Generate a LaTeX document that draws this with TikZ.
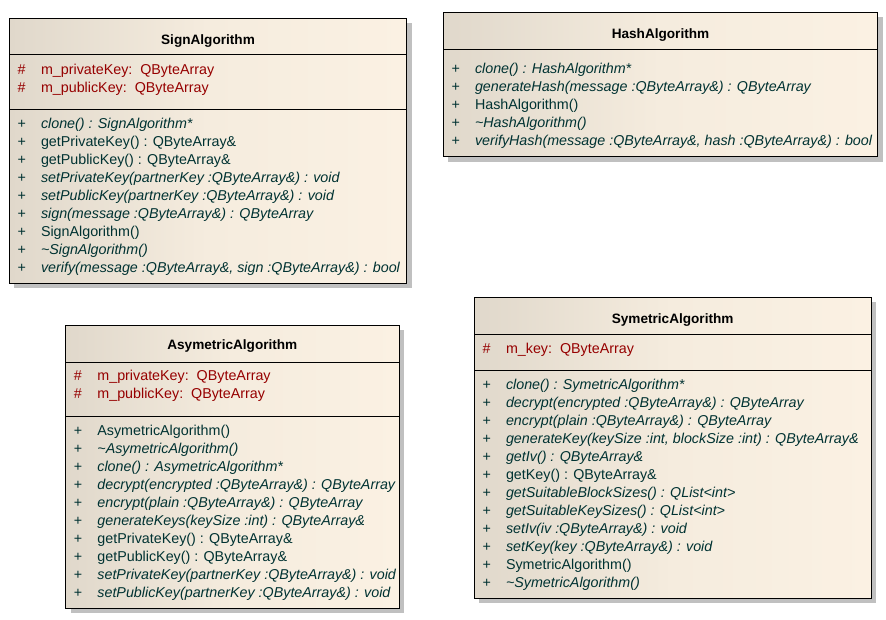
\documentclass[tikz,border=0pt]{standalone}
\usepackage{fontspec}
\setmainfont{Liberation Sans}
\usepackage{tikz}
\definecolor{attrred}{RGB}{150,0,0}
\definecolor{opteal}{RGB}{0,50,50}
\definecolor{bodyleft}{RGB}{224,216,203}
\definecolor{bodymid}{RGB}{245,236,222}
\definecolor{bodyright}{RGB}{251,241,227}
\definecolor{shadowgray}{RGB}{192,192,192}
\newcommand\umlfont{\fontsize{14.3}{17}\selectfont}
\tikzset{
    boxshadow/.style={fill=shadowgray},
    boxbody/.style={draw=black, line width=1pt, left color=bodyleft, right color=bodyright, middle color=bodymid},
    boxrule/.style={draw=black, line width=1pt},
    classtitle/.style={anchor=base, inner sep=0pt, font=\bfseries\fontsize{13.6}{16}\selectfont},
    attr/.style={anchor=base west, inner sep=0pt, text=attrred, font=\umlfont},
    op/.style={anchor=base west, inner sep=0pt, text=opteal, font=\umlfont},
}
% #1 name, #2 title, #3 left, #4 top, #5 right, #6 bottom, #7 title baseline, #8 rules
\newcommand\ClassBox[8]{%
    \fill[boxshadow] ({#3+5},{-#4-5}) rectangle ({#5+5},{-#6-5});
    \draw[boxbody] (#3,-#4) rectangle (#5,-#6);
    \foreach \r in {#8} \draw[boxrule] (#3,-\r) -- (#5,-\r);
    \node[classtitle] (#1) at ({(#3+#5)/2},-#7) {#2};
}
% #1 style, #2 prefix, #3 marker, #4 box left, #5 first baseline, #6 entries
\newcommand\Members[6]{%
    \foreach \entry [count=\i] in {#6} {
        \node[#1] (#2m\i) at ({#4+8},{-(#5)-18*(\i-1)}) {#3};
        \node[#1] (#2\i) at ({#4+31.5},{-(#5)-18*(\i-1)}) {\entry};
    }
}

\begin{document}
\begin{tikzpicture}[x=1pt,y=1pt]
    \useasboundingbox (0,0) rectangle (886,-620);
    % SignAlgorithm
    \ClassBox{sign}{SignAlgorithm}{9.3}{18.3}{406.7}{283.3}{44.2}{55,109.3}
    \Members{attr}{signa}{\#}{9.3}{74.8}{m\_privateKey:~~QByteArray, m\_publicKey:~~QByteArray}
    \Members{op}{signo}{+}{9.3}{128.6}{
        \textit{clone() : SignAlgorithm*},
        getPrivateKey() : QByteArray\&,
        getPublicKey() : QByteArray\&,
        \textit{setPrivateKey(partnerKey :QByteArray\&) : void},
        \textit{setPublicKey(partnerKey :QByteArray\&) : void},
        \textit{sign(message :QByteArray\&) : QByteArray},
        SignAlgorithm(),
        \textit{\textasciitilde SignAlgorithm()},
        {\textit{verify(message :QByteArray\&, sign :QByteArray\&) : bool}}}
    % HashAlgorithm
    \ClassBox{hash}{HashAlgorithm}{443.3}{12.3}{877.7}{156.7}{38.2}{49.3}
    \Members{op}{hasho}{+}{443.3}{73.8}{
        \textit{clone() : HashAlgorithm*},
        \textit{generateHash(message :QByteArray\&) : QByteArray},
        HashAlgorithm(),
        \textit{\textasciitilde HashAlgorithm()},
        {\textit{verifyHash(message :QByteArray\&, hash :QByteArray\&) : bool}}}
    % AsymetricAlgorithm
    \ClassBox{asym}{AsymetricAlgorithm}{65.7}{325.3}{399}{608}{349.6}{362.3,416.3}
    \Members{attr}{asyma}{\#}{65.7}{380.1}{m\_privateKey:~~QByteArray, m\_publicKey:~~QByteArray}
    \Members{op}{asymo}{+}{65.7}{435.5}{
        AsymetricAlgorithm(),
        \textit{\textasciitilde AsymetricAlgorithm()},
        \textit{clone() : AsymetricAlgorithm*},
        \textit{decrypt(encrypted :QByteArray\&) : QByteArray},
        \textit{encrypt(plain :QByteArray\&) : QByteArray},
        \textit{generateKeys(keySize :int) : QByteArray\&},
        getPrivateKey() : QByteArray\&,
        getPublicKey() : QByteArray\&,
        \textit{setPrivateKey(partnerKey :QByteArray\&) : void},
        \textit{setPublicKey(partnerKey :QByteArray\&) : void}}
    % SymetricAlgorithm
    \ClassBox{sym}{SymetricAlgorithm}{474.3}{297.3}{871}{598.3}{323.2}{334.3,370.3}
    \Members{attr}{syma}{\#}{474.3}{353.8}{m\_key:~~QByteArray}
    \Members{op}{symo}{+}{474.3}{389.8}{
        \textit{clone() : SymetricAlgorithm*},
        \textit{decrypt(encrypted :QByteArray\&) : QByteArray},
        \textit{encrypt(plain :QByteArray\&) : QByteArray},
        {\textit{generateKey(keySize :int, blockSize :int) : QByteArray\&}},
        \textit{getIv() : QByteArray\&},
        getKey() : QByteArray\&,
        \textit{getSuitableBlockSizes() : QList<int>},
        \textit{getSuitableKeySizes() : QList<int>},
        \textit{setIv(iv :QByteArray\&) : void},
        \textit{setKey(key :QByteArray\&) : void},
        SymetricAlgorithm(),
        \textit{\textasciitilde SymetricAlgorithm()}}
\end{tikzpicture}
\end{document}
